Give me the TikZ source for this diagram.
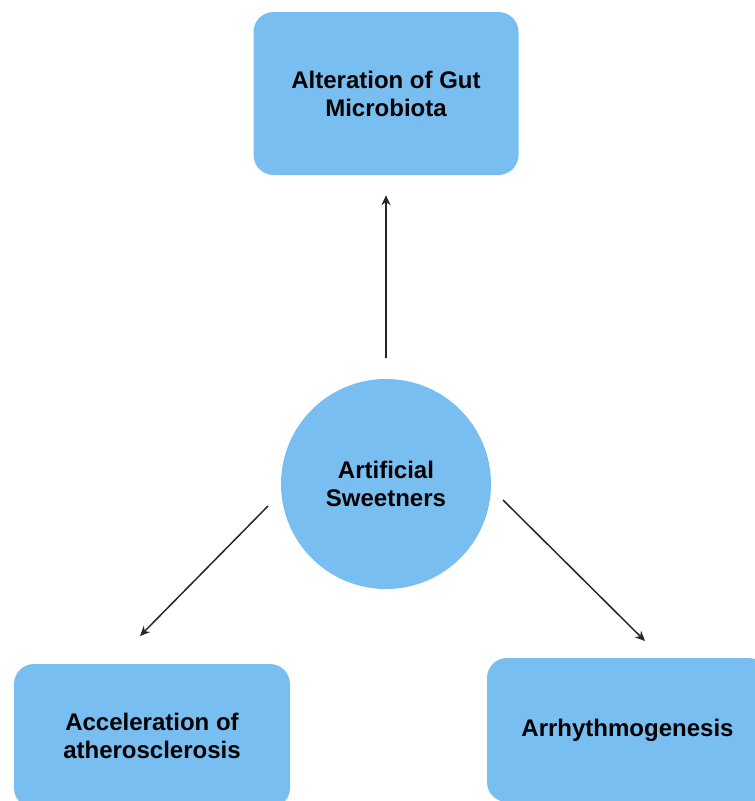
\documentclass[tikz,border=0pt]{standalone}
\usepackage{fontspec}
\setmainfont{Liberation Sans}
\usetikzlibrary{arrows.meta, positioning}
\definecolor{boxblue}{RGB}{121,190,240}

\begin{document}
\begin{tikzpicture}[
    x=1pt, y=-1pt,
    txt/.style={align=center, font=\fontsize{24}{28}\selectfont\bfseries, text=black},
    effect/.style={txt, fill=boxblue, rounded corners=20pt, inner sep=0pt},
    cause/.style={txt, fill=boxblue, circle, minimum size=210pt, inner sep=0pt},
    arrow/.style={-{Stealth[length=10pt, width=9pt]}, line width=1.5pt, draw=black!85}
]
\clip (0,0) rectangle (755,801);
\node[cause] (sweet) at (386,484) {Artificial\\Sweetners};
\node[effect, minimum width=265pt, minimum height=163pt] (gut) at (386,93.5) {Alteration of Gut\\Microbiota};
\node[effect, minimum width=276pt, minimum height=144pt] (athero) at (152,736) {Acceleration of\\atherosclerosis};
\node[effect, minimum width=281pt, minimum height=144pt] (arrhy) at (627.5,730) {Arrhythmogenesis};
% free ends of the diagonal arrows
\coordinate (la) at (268,506);
\coordinate (lb) at (140,636);
\coordinate (ra) at (503,500);
\coordinate (rb) at (645,641);
\draw[arrow, shorten <=21pt, shorten >=20pt] (sweet.north) -- (gut.south);
\draw[arrow] (la) -- (lb);
\draw[arrow] (ra) -- (rb);
\end{tikzpicture}
\end{document}
